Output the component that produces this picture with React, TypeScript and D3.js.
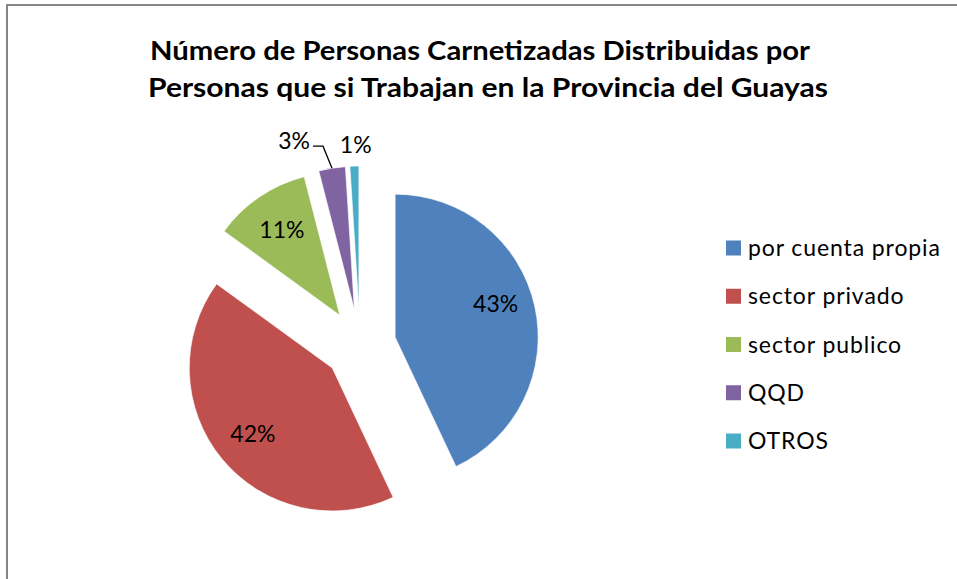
import React, { useEffect, useRef } from 'react'
import * as d3 from 'd3'

const categories = ['por cuenta propia', 'sector privado', 'sector publico', 'QQD', 'OTROS']
const shares = [43, 42, 11, 3, 1]
const colors = ['#4F81BD', '#C0504D', '#9BBB59', '#8064A2', '#4BACC6']
const titleLines = [
    'Número de Personas Carnetizadas Distribuidas por',
    'Personas que si Trabajan en la Provincia del Guayas'
]

const App = () => {
    const ref = useRef<SVGSVGElement>(null)

    useEffect(() => {
        document.body.style.margin = '0'
        drawChart()
    }, [])

    const drawChart = () => {
        const width = 957
        const height = 579
        const cx = 360
        const cy = 345
        const radius = 143
        const explode = 36
        const font = 'Lato, "Open Sans", sans-serif'

        const svg = d3.select(ref.current)
        svg.selectAll('*').remove()

        // chart area frame (runs off the right and bottom edges)
        svg.append('rect')
            .attr('x', 7)
            .attr('y', 5)
            .attr('width', width + 20)
            .attr('height', height + 20)
            .attr('fill', '#fff')
            .attr('stroke', '#868686')
            .attr('stroke-width', 2)

        const titleWidths = [660, 680]
        const titleCenters = [480, 488]
        svg.selectAll('text.title')
            .data(titleLines)
            .enter()
            .append('text')
            .attr('class', 'title')
            .attr('x', (d, i) => titleCenters[i])
            .attr('y', (d, i) => 60 + i * 37)
            .attr('text-anchor', 'middle')
            .attr('textLength', (d, i) => titleWidths[i])
            .attr('lengthAdjust', 'spacingAndGlyphs')
            .style('font-family', font)
            .style('font-weight', 'bold')
            .style('font-size', '26px')
            .text(d => d)

        const pie = d3.pie<number>().sort(null).value(d => d)
        const arcs = pie(shares)
        const arc = d3.arc<d3.PieArcDatum<number>>().innerRadius(0).outerRadius(radius)
        const labelArc = d3.arc<d3.PieArcDatum<number>>().innerRadius(radius * 0.72).outerRadius(radius * 0.72)
        const mid = (d: d3.PieArcDatum<number>) => (d.startAngle + d.endAngle) / 2
        const offset = (d: d3.PieArcDatum<number>, r: number) =>
            [Math.sin(mid(d)) * r, -Math.cos(mid(d)) * r]

        const slices = svg.append('g')
            .attr('transform', `translate(${cx},${cy})`)
            .selectAll('g')
            .data(arcs)
            .enter()
            .append('g')
            .attr('transform', d => {
                const [dx, dy] = offset(d, explode)
                return `translate(${dx},${dy})`
            })

        slices.append('path')
            .attr('d', arc)
            .attr('fill', (d, i) => colors[i])
            .attr('stroke', '#fff')
            .attr('stroke-width', 0.6)

        // labels inside the big slices
        slices.filter(d => d.data >= 10)
            .append('text')
            .attr('transform', d => `translate(${labelArc.centroid(d)})`)
            .attr('text-anchor', 'middle')
            .attr('dy', (d, i) => i === 0 ? '-0.1em' : '0.35em')
            .style('font-family', font)
            .style('font-size', '23px')
            .attr('fill', '#000')
            .text(d => `${d.data}%`)

        // QQD label with leader line
        const qqd = slices.filter((d, i) => i === 3)
        qqd.append('polyline')
            .attr('points', d => {
                const [x0, y0] = offset(d, radius)
                return [[x0, y0], [x0 - 9, y0 - 22], [x0 - 19, y0 - 22]].map(p => p.join(',')).join(' ')
            })
            .attr('fill', 'none')
            .attr('stroke', '#000')
            .attr('stroke-width', 1.3)
        qqd.append('text')
            .attr('x', d => offset(d, radius)[0] - 22)
            .attr('y', d => offset(d, radius)[1] - 19)
            .attr('text-anchor', 'end')
            .style('font-family', font)
            .style('font-size', '23px')
            .text(d => `${d.data}%`)

        // OTROS label outside
        slices.filter((d, i) => i === 4)
            .append('text')
            .attr('transform', d => `translate(${offset(d, radius + 21)})`)
            .attr('text-anchor', 'middle')
            .attr('dx', 2)
            .attr('dy', '0.35em')
            .style('font-family', font)
            .style('font-size', '23px')
            .text(d => `${d.data}%`)

        const legendY = d3.scalePoint<string>()
            .domain(categories)
            .range([248, 441])

        const legend = svg.append('g')
            .selectAll('g')
            .data(categories)
            .enter()
            .append('g')
            .attr('transform', d => `translate(726,${legendY(d)})`)

        legend.append('rect')
            .attr('x', 0)
            .attr('y', -7.5)
            .attr('width', 15)
            .attr('height', 15)
            .attr('fill', (d, i) => colors[i])

        legend.append('text')
            .attr('x', 22)
            .attr('dy', '0.35em')
            .style('font-family', font)
            .style('font-size', '23px')
            .style('letter-spacing', '0.9px')
            .text(d => d)
    }

    return (
        <svg ref={ref} width={957} height={579} style={{ display: 'block' }}></svg>
    )
}

export default App
